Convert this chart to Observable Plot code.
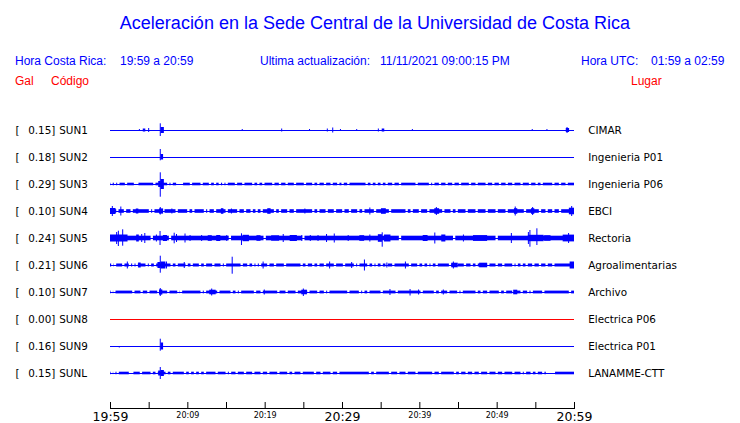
<!DOCTYPE html>
<html><head><meta charset="utf-8">
<script src="https://cdn.jsdelivr.net/npm/d3@7"></script>
<script src="https://cdn.jsdelivr.net/npm/@observablehq/plot@0.6"></script>
<style>
body{margin:0;background:#fff;}
#wrap{position:relative;width:740px;height:423px;overflow:hidden;font-family:"Liberation Sans",Arial,sans-serif;}
.h{position:absolute;white-space:pre;font-size:12px;line-height:14px;color:#0000ff;top:53.5px;}
.r{color:#ff0000;top:74px;}
#title{position:absolute;left:0;width:750px;text-align:center;top:13px;font-size:18px;line-height:20px;color:#0000ff;}
#chart{position:absolute;left:0;top:110px;}
</style></head>
<body>
<div id="wrap">
  <div id="title">Aceleración en la Sede Central de la Universidad de Costa Rica</div>
  <div class="h" style="left:15px">Hora Costa Rica:</div>
  <div class="h" style="left:120px">19:59 a 20:59</div>
  <div class="h" style="left:260px">Ultima actualización:</div>
  <div class="h" style="left:380px">11/11/2021 09:00:15 PM</div>
  <div class="h" style="left:581px">Hora UTC:</div>
  <div class="h" style="left:651px">01:59 a 02:59</div>
  <div class="h r" style="left:15px">Gal</div>
  <div class="h r" style="left:51px">Código</div>
  <div class="h r" style="left:631px">Lugar</div>
  <div id="chart"></div>
</div>
<script>
// ---- data ----
const codes = ["SUN1","SUN2","SUN3","SUN4","SUN5","SUN6","SUN7","SUN8","SUN9","SUNL"];
const gal = [0.15,0.18,0.29,0.10,0.24,0.21,0.10,0.00,0.16,0.15];
const places = ["CIMAR","Ingenieria P01","Ingenieria P06","EBCI","Rectoria","Agroalimentarias","Archivo","Electrica P06","Electrica P01","LANAMME-CTT"];
// background noise half-amplitude (relative units; 27 units = one trace spacing)
const bandAmp = [0,0,1.3,1.8,2.3,1.5,1.4,0,0,1.3];
// minutes (after 19:59) where the noise band briefly drops out
const gaps = [
  [],
  [],
  [0.2,0.65,1.08,2.07,3.23,3.53,5.73,7.54,7.97,8.7,9.0,9.3,10.47,11.85,12.93,13.58,14.2,14.65,15.08,16.29,17.24,18.53,19.18,19.83,21.12,21.98,22.84,23.92,25.21,26.29,26.94,27.8,28.66,29.52,30.08,30.82,33.19,33.83,34.48,35.13,35.77,36.64,37.5,39.65,41.38,41.81,42.67,43.53,44.4,45.26,46.55,47.41,48.71,49.57,50.43,51.3,52.16,53.23,54.31,55.17,55.82,57.33,58.19,59.05],
  [0.95,1.94,2.8,5.17,5.6,6.9,8.62,10.13,10.78,12.28,12.72,13.58,15.09,16.59,17.46,18.32,18.96,19.61,21.34,21.98,23.06,23.92,26.29,26.94,28.02,29.09,30.17,31.03,32.11,32.76,34.27,36.21,38.36,39.01,40.08,41.16,43.1,44.18,44.83,46.12,47.41,48.71,50.0,51.29,53.66,55.6,56.46,57.33,58.19],
  [5.4,7.76,15.5,20.0,25.0,37.5,44.5,50.0],
  [0.3,0.65,1.72,2.58,3.02,3.45,4.74,5.17,5.82,7.97,8.62,9.91,10.56,11.64,12.28,13.36,14.44,14.87,17.03,17.89,18.53,18.96,19.4,20.47,21.34,22.63,24.78,25.43,26.29,26.94,27.8,29.09,30.26,31.68,32.11,33.41,34.05,34.48,35.13,35.77,36.64,38.79,39.87,40.52,41.16,41.59,42.24,43.97,44.83,45.9,46.77,47.41,48.92,50.0,50.86,52.16,52.59,53.23,53.88,54.74,55.6,56.46,57.33],
  [0.22,0.56,3.02,4.09,4.96,6.25,7.54,8.84,9.18,11.85,12.28,14.01,15.73,16.38,16.81,18.75,19.61,21.77,22.84,24.14,25.65,26.94,27.8,28.23,30.82,32.33,32.76,33.41,35.13,37.07,40.3,42.02,42.67,43.75,45.04,45.47,47.41,48.06,48.92,50.43,51.08,52.16,53.23,54.09,54.53,56.03,59.48],
  [],
  [],
  [0.22,0.56,0.99,2.58,2.88,4.0,5.39,6.03,7.33,7.97,9.7,10.34,10.99,11.64,12.28,13.79,15.09,15.52,16.38,17.46,18.53,19.61,20.47,21.77,23.06,23.71,24.78,26.51,27.37,28.66,29.52,33.62,34.27,36.21,37.28,38.36,39.65,41.81,42.67,44.61,45.26,46.12,46.98,47.84,48.92,50.0,50.86,52.16,53.23,53.66,54.53,55.17,56.03,56.5,56.8,57.1,57.4]
];
// bursts: [start minute, end minute, amplitude up, amplitude down]
const bursts = [
  [[3.8,3.8,1,1],[4.3,4.5,1.5,1.5],[5.0,5.0,2,2],[6.5,6.5,6.7,6],[6.6,6.9,3,3],[17.1,17.1,1,1],[22.2,22.2,1.5,1.5],[25.8,25.8,1,1],[28.1,28.1,1.5,1.5],[28.8,28.8,2.5,2.5],[29.8,29.8,1,1],[31.9,31.9,1,1],[34.7,34.7,1.5,1.5],[35.2,35.4,1.5,1.5],[39.1,39.1,1,1],[54.6,54.6,1,1],[56.5,56.5,1,1],[59.0,59.3,2,2],[59.1,59.1,3,3]],
  [[6.5,6.5,8,3.3],[6.6,6.8,3,2.5]],
  [[6.5,6.5,11.7,12.7],[6.6,6.9,5,5],[6.3,6.5,3,3]],
  [[0,0.65,3,3],[0.3,0.3,5,5],[1.4,1.4,4.5,4.5],[3.4,3.6,2.5,2.5],[6.5,6.5,4,3.5],[6.4,6.8,2.6,2.6],[8.0,8.0,2.5,2.5],[14.4,14.6,2.8,2.8],[15.7,15.7,2.5,2.5],[20.4,20.7,2.8,2.8],[25.2,25.2,2.5,2.5],[33.6,33.6,3.5,3.5],[35.1,35.6,2.8,2.8],[42.0,42.5,2.8,2.8],[42.2,42.2,4,4],[52.3,52.6,2.8,2.8],[52.4,52.4,4.5,4.5],[54.5,54.8,2.8,2.8],[54.65,54.65,4,4],[59.4,60,3.3,3.3],[59.7,59.7,5,5]],
  [[0,2.2,3.5,3.5],[0.86,0.86,6,6],[1.08,1.08,7.3,8],[1.64,1.64,8.7,7.7],[3.45,3.66,3.5,3.5],[4.1,4.1,4,4],[4.5,4.5,5,5],[6.0,6.0,3.5,3.5],[6.47,6.47,7,7],[6.9,7.3,3,3],[8.3,8.3,5.3,5.3],[8.6,8.6,4,4],[9.7,9.7,4.5,4.5],[10.35,10.35,3,3],[11.85,11.85,3,3],[12.7,13.1,2.8,2.8],[13.8,14.2,3,3],[15.1,15.1,3,3],[17.0,17.0,4.7,7],[17.2,17.9,3.2,3.2],[19.0,19.4,2.8,2.8],[20.9,21.8,2.7,2.7],[22.4,22.4,4,4],[23.3,24.1,3,3],[24.8,24.8,3,3],[25.9,25.9,3,3],[26.9,26.9,3,3],[28.0,28.0,4,4],[29.0,29.0,4.5,4.5],[30.8,30.8,3,3],[32.3,32.8,2.8,2.8],[33.6,33.6,3.5,3.5],[34.7,35.1,3.8,3.8],[35.2,35.2,5.7,8.7],[35.5,36.2,3.5,3.5],[40.5,41.0,3,3],[42.0,42.0,5.5,5.5],[42.9,43.3,3.5,3.5],[45.7,45.7,3.5,3.5],[47.0,48.7,2.9,2.9],[51.9,51.9,5,5],[54.1,56.0,3.2,3.2],[54.1,54.1,6,6],[54.3,54.3,8,8.7],[55.2,55.2,9.7,7],[56.2,56.9,2.8,2.8],[58.6,60,3.4,3.4],[59.3,59.3,5,5]],
  [[2.24,2.24,3.5,3.5],[3.7,3.9,2.5,2.5],[6.5,6.5,9.3,7.7],[6.6,7.1,3.5,3.5],[6.2,6.45,3,3],[7.3,7.3,3.5,3.5],[9.6,9.6,3,3],[15.8,15.8,8.3,8.7],[19.8,19.8,3.5,3.5],[28.4,28.4,3.5,3.5],[31.25,31.25,3,3],[32.9,32.9,5.5,5.5],[35.8,35.8,2.5,2.5],[38.2,38.2,3.5,3.5],[44.4,44.4,3.5,3.5],[44.2,44.9,2.3,2.3],[47.8,48.7,2.3,2.3],[59.5,60,3.5,3.5]],
  [[6.5,6.5,4,4],[6.4,6.7,2.6,2.6],[13.15,13.15,3.5,3.5],[12.9,13.6,2.3,2.3],[19.95,19.95,2.5,2.5],[25.0,25.0,3.5,4],[24.8,25.4,2.3,2.3],[36.2,36.2,3,3],[38.8,38.8,3,3.5],[39.9,39.9,2.5,2.5],[43.1,43.1,2.5,2.5],[52.2,52.6,2.3,2.3]],
  [],
  [[1.2,1.2,0,1.5],[6.5,6.5,7.3,4.7],[6.6,6.8,3.5,3.5]],
  [[6.5,6.5,6,6],[6.6,6.9,3,3],[6.3,6.45,2.5,2.5]]
];
const tickMinutes = [0,5,10,15,20,25,30,35,40,45,50,55,60];
const labelMinutes = [0,10,20,30,40,50,60];
const tickLabels = ["19:59","20:09","20:19","20:29","20:39","20:49","20:59"];
const bigLabels = ["19:59","20:29","20:59"];

// ---- build mark tables ----
const UNIT = 27;  // amplitude units per trace spacing
const GAPW = 0.3; // width of a noise dropout, minutes
const SPW = 0.065; // half width of a single spike, minutes
const col = i => gal[i] === 0 ? "#ff0000" : "#0000ff";
const stations = codes.map((c, i) => ({i, code: c, gal: gal[i], place: places[i]}));

const bandRows = [];
bandAmp.forEach((a, i) => {
  if (!a) return;
  let s = 0;
  const g = gaps[i].slice().sort((p, q) => p - q);
  for (const m of g) {
    const e = m - GAPW / 2;
    if (e > s) bandRows.push({i, x1: s, x2: e, a});
    s = m + GAPW / 2;
  }
  if (s < 60) bandRows.push({i, x1: s, x2: 60, a});
});
const burstRows = [];
bursts.forEach((arr, i) => arr.forEach(([s, e, up, dn]) =>
  burstRows.push({i, x1: Math.max(0, s - SPW), x2: Math.min(60, e + SPW), up, dn})));

const chart = Plot.plot({
  width: 740,
  height: 313,
  marginLeft: 110,
  marginRight: 166,
  marginTop: 0,
  marginBottom: 15,
  x: {domain: [0, 60]},
  y: {domain: [-20 / UNIT, 278 / UNIT], reverse: true, axis: null},
  style: {fontFamily: "DejaVu Sans", background: "white", overflow: "visible"},
  marks: [
    Plot.ruleY(stations, {y: "i", x1: 0, x2: 60, stroke: d => col(d.i), strokeWidth: 1}),
    Plot.rect(bandRows, {x1: "x1", x2: "x2", y1: d => d.i - d.a / UNIT, y2: d => d.i + d.a / UNIT, fill: d => col(d.i)}),
    Plot.rect(burstRows, {x1: "x1", x2: "x2", y1: d => d.i - d.up / UNIT, y2: d => d.i + d.dn / UNIT, fill: d => col(d.i)}),
    Plot.text(stations, {x: 0, y: "i", text: () => "[", textAnchor: "start", dx: -95, fontSize: 10.4, fill: "black"}),
    Plot.text(stations, {x: 0, y: "i", text: d => d.gal.toFixed(2) + "]", textAnchor: "start", dx: -82.3, fontSize: 10.4, fill: "black"}),
    Plot.text(stations, {x: 0, y: "i", text: "code", textAnchor: "start", dx: -51.3, fontSize: 10.4, fill: "black"}),
    Plot.text(stations, {x: 60, y: "i", text: "place", textAnchor: "start", dx: 13.7, fontSize: 10.4, fill: "black"}),
    Plot.frame({anchor: "bottom", stroke: "black"}),
    Plot.axisX({anchor: "bottom", ticks: tickMinutes, tickSize: -6, tickFormat: () => "", label: null, stroke: "black"}),
    Plot.axisX({anchor: "bottom", ticks: labelMinutes.filter((m, k) => !bigLabels.includes(tickLabels[k])), tickSize: 0, tickPadding: 4, tickFormat: m => tickLabels[labelMinutes.indexOf(m)], fontSize: 8, label: null, fill: "black"}),
    Plot.axisX({anchor: "bottom", ticks: labelMinutes.filter((m, k) => bigLabels.includes(tickLabels[k])), tickSize: 0, tickPadding: 4, tickFormat: m => tickLabels[labelMinutes.indexOf(m)], fontSize: 12.5, label: null, fill: "black"})
  ]
});
document.getElementById("chart").appendChild(chart);
</script>
</body></html>
